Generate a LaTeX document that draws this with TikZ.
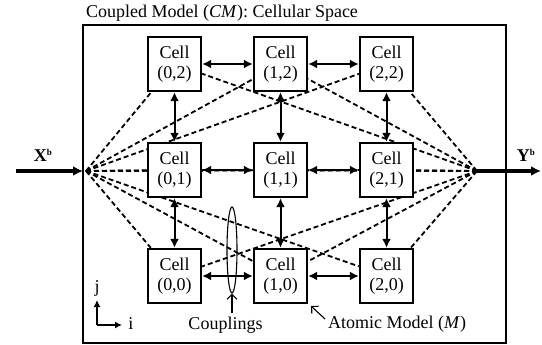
\documentclass[tikz,border=0pt]{standalone}
\usepackage{fontspec}
\setmainfont{Liberation Serif}
\usetikzlibrary{arrows.meta,shapes.geometric,backgrounds}
\begin{document}
\begin{tikzpicture}[x=1pt,y=-1pt,
  txt/.style={font=\fontsize{18}{20}\selectfont, inner sep=0pt},
  cell/.style={draw, line width=2.3pt, fill=white, minimum width=53pt, minimum height=54pt,
    inner sep=0pt, align=center, font=\fontsize{18}{20}\selectfont},
  dsh/.style={dash pattern=on 5pt off 3pt, line width=1.8pt},
  dbl/.style={line width=2pt, {Latex[length=9pt,width=9pt]}-{Latex[length=9pt,width=9pt]}},
  bigarrow/.style={line width=3.5pt, -{Latex[length=10pt,width=10pt]}},
  pointer/.style={line width=1.1pt, -{Straight Barb[length=5pt,width=10pt]}},
  axis/.style={line width=1.3pt, -{Latex[length=7pt,width=7pt]}}]
\useasboundingbox (0,0) rectangle (542,345);
% frame
\node[draw, line width=1.8pt, minimum width=423pt, minimum height=318pt, inner sep=0pt] (frame) at (294.5,184) {};
\node[txt, anchor=base west] (title) at (86,18) {Coupled Model (\textit{CM}): Cellular Space};
% cells
\foreach \i in {0,1,2} {
  \foreach \j in {0,1,2} {
    \node[cell] (c\i\j) at ({174.5+106*\i},{276-106*\j}) {Cell\\(\i,\j)};
  }
}
% fan points
\coordinate (L) at (86,171);
\coordinate (R) at (477,171);
\begin{scope}[on background layer]
  \foreach \i in {0,1,2} {
    \foreach \j in {0,1,2} {
      \draw[dsh] (L) -- (c\i\j);
      \draw[dsh] (R) -- (c\i\j);
    }
  }
\end{scope}
% neighbour couplings
\foreach \i in {0,1,2} {
  \draw[dbl] (c\i0) -- (c\i1);
  \draw[dbl] (c\i1) -- (c\i2);
}
\foreach \j in {0,1,2} {
  \draw[dbl] (c0\j) -- (c1\j);
  \draw[dbl] (c1\j) -- (c2\j);
}
% input / output
\coordinate (inS) at (16,171);
\coordinate (inT) at (83,171);
\coordinate (outT) at (541,171);
\draw[bigarrow] (inS) -- (inT);
\draw[bigarrow] (R) -- (outT);
\node[txt] (xb) at (43,155) {\textbf{X}\raisebox{0.75ex}{\fontsize{9}{9}\selectfont\textbf{b}}};
\node[txt] (yb) at (526,155) {\textbf{Y}\raisebox{0.75ex}{\fontsize{9}{9}\selectfont\textbf{b}}};
% couplings ellipse
\node[ellipse, draw, line width=1.1pt, minimum width=10pt, minimum height=86pt, inner sep=0pt] (ell) at (232,250) {};
\node[txt, anchor=base] (coupl) at (225.5,330) {Couplings};
\coordinate (cp) at (232,313);
\draw[pointer] (cp) -- (ell.south);
% atomic model
\node[txt, anchor=base west] (atom) at (328,328) {Atomic Model (\textit{M})};
\coordinate (am) at (325,319);
\coordinate (amT) at (311,306);
\draw[pointer] (am) -- (amT);
% axes
\coordinate (o) at (97,325);
\coordinate (oj) at (97,300);
\coordinate (oi) at (122,325);
\draw[axis] (o) -- (oj);
\draw[axis] (o) -- (oi);
\node[txt] (jl) at (97,288) {j};
\node[txt, anchor=base] (il) at (131,329) {i};
\end{tikzpicture}
\end{document}
